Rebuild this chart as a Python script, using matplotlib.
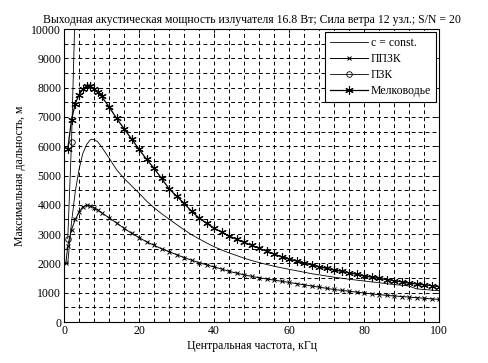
import matplotlib
matplotlib.use("Agg")
import matplotlib.pyplot as plt
from matplotlib.ticker import MultipleLocator

plt.rcParams['font.family'] = ['Liberation Serif', 'DejaVu Serif']
plt.rcParams['lines.scale_dashes'] = False

# частота, кГц
freq = [1, 2, 3, 4, 5, 6, 7, 8, 9, 10, 12, 14, 16, 18, 20, 22, 24, 26, 28, 30,
        32, 34, 36, 38, 40, 42, 44, 46, 48, 50, 52, 54, 56, 58, 60, 62, 64, 66,
        68, 70, 72, 74, 76, 78, 80, 82, 84, 86, 88, 90, 92, 94, 96, 98, 100]

c_const = [2000, 3400, 4450, 5200, 5750, 6050, 6220, 6230, 6150, 5980, 5600, 5200,
           4900, 4650, 4400, 4130, 3900, 3700, 3510, 3330, 3150, 2980, 2840, 2700,
           2570, 2460, 2360, 2270, 2180, 2100, 2030, 1965, 1905, 1850, 1800, 1750,
           1700, 1650, 1610, 1570, 1530, 1495, 1460, 1430, 1400, 1370, 1340, 1310,
           1280, 1255, 1230, 1130, 1110, 1090, 1070]

ppzk_freq = [0.5] + freq
ppzk = [2000, 2600, 3150, 3500, 3750, 3930, 3990, 3970, 3900, 3820, 3730, 3560,
        3380, 3200, 3030, 2880, 2740, 2620, 2500, 2400, 2300, 2200, 2110, 2030,
        1950, 1880, 1810, 1730, 1670, 1610, 1560, 1510, 1470, 1430, 1390, 1350,
        1310, 1270, 1230, 1190, 1150, 1110, 1080, 1050, 1020, 990, 960, 935, 910,
        890, 870, 850, 830, 810, 790, 770]

pzk_freq = [1, 2, 3]
pzk = [2850, 6150, 10900]

shallow = [5900, 6900, 7450, 7750, 7950, 8050, 8050, 7950, 7850, 7700, 7350, 6950,
           6600, 6250, 5900, 5550, 5250, 4900, 4550, 4300, 4050, 3780, 3550, 3370,
           3200, 3070, 2940, 2820, 2720, 2620, 2520, 2420, 2320, 2230, 2150, 2080,
           2010, 1950, 1890, 1830, 1780, 1730, 1680, 1630, 1580, 1530, 1490, 1450,
           1410, 1370, 1330, 1300, 1270, 1240, 1210]

fig = plt.figure(figsize=(4.89, 3.63), dpi=100)
ax = fig.add_axes([0.1309, 0.1129, 0.7669, 0.8072])

ax.plot(freq, c_const, color='k', lw=0.6, label='c = const.')
ax.plot(ppzk_freq, ppzk, color='k', lw=0.7, marker='x', ms=3.5, mew=0.7, label='ППЗК')
ax.plot(pzk_freq, pzk, color='k', lw=0.6, marker='o', ms=4, mfc='none', mew=0.6, label='ПЗК')
# звёздочка из линий, как в исходнике
ax.plot(freq, shallow, color='k', lw=0.9, marker=(6, 2, 0), ms=6, mew=0.8, label='Мелководье')

ax.set_xlim(0, 100)
ax.set_ylim(0, 10000)
ax.xaxis.set_major_locator(MultipleLocator(20))
ax.xaxis.set_minor_locator(MultipleLocator(4))
ax.yaxis.set_major_locator(MultipleLocator(1000))
ax.yaxis.set_minor_locator(MultipleLocator(500))
ax.grid(which='both', color='k', ls=(0, (2.8, 2.2)), lw=0.7)
ax.tick_params(which='both', direction='in', top=True, right=True, labelsize=8.5,
               length=3, width=0.6, pad=2)
ax.tick_params(which='minor', length=0)
for s in ax.spines.values():
    s.set_linewidth(0.8)

ax.set_title('Выходная акустическая мощность излучателя 16.8 Вт; Сила ветра 12 узл.; S/N = 20',
             fontsize=8.5, pad=4)
ax.set_xlabel('Центральная частота, кГц', fontsize=8.5, labelpad=2)
ax.set_ylabel('Максимальная дальность, м', fontsize=8.5, labelpad=4)

leg = ax.legend(loc='upper right', fontsize=8.5, fancybox=False, edgecolor='k',
                framealpha=1, borderaxespad=0.25, handlelength=3.2, labelspacing=0.35,
                borderpad=0.4, handletextpad=0.3)
leg.get_frame().set_linewidth(0.8)

fig.savefig('out.png', dpi=100)
